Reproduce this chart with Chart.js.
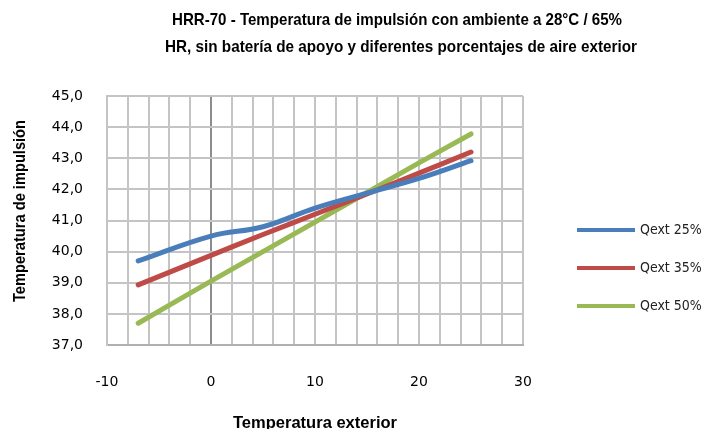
<!DOCTYPE html>
<html>
<head>
<meta charset="utf-8">
<script src="https://cdn.jsdelivr.net/npm/chart.js@4"></script>
<style>
  html, body { margin: 0; padding: 0; background: #fff; }
  #wrap { width: 717px; height: 429px; position: relative; }
</style>
</head>
<body>
<div id="wrap"><canvas id="chart" width="717" height="429"></canvas></div>
<script>
// values
const titleLines = [
    'HRR-70 - Temperatura de impulsión con ambiente a 28°C / 65%',
    'HR, sin batería de apoyo y diferentes porcentajes de aire exterior'
];
const xAxisTitle = 'Temperatura exterior';
const yAxisTitle = 'Temperatura de impulsión';
const xValues = [-7, 0, 5, 10, 15, 20, 25];
const qext25 = [39.7, 40.5, 40.8, 41.4, 41.88, 42.35, 42.92];
const qext35 = [38.93, 39.88, 40.55, 41.2, 41.85, 42.52, 43.2];
const qext50 = [37.7, 39.05, 40.0, 40.95, 41.9, 42.85, 43.78];
const seriesNames = ['Qext 25%', 'Qext 35%', 'Qext 50%'];
const seriesColors = ['#4a7ebb', '#be4b48', '#98b954'];

const textFont = "'Liberation Sans', Arial, sans-serif";

function toPoints(values) {
    return values.map((v, i) => ({ x: xValues[i], y: v }));
}

// draws text squeezed to a given width, like the condensed Excel font
function drawFitted(ctx, text, cx, cy, width, font, angle) {
    ctx.save();
    ctx.font = font;
    ctx.translate(cx, cy);
    if (angle) ctx.rotate(angle);
    const w = ctx.measureText(text).width;
    ctx.scale(width / w, 1);
    ctx.fillStyle = '#000';
    ctx.textAlign = 'center';
    ctx.textBaseline = 'middle';
    ctx.fillText(text, 0, 0);
    ctx.restore();
}

const titlePlugin = {
    id: 'excelTitles',
    afterDraw(chart) {
        const ctx = chart.ctx;
        drawFitted(ctx, titleLines[0], 397, 20, 450, 'bold 17px ' + textFont);
        drawFitted(ctx, titleLines[1], 401, 47, 472, 'bold 17px ' + textFont);
        drawFitted(ctx, yAxisTitle, 21, 211, 182, 'bold 16px ' + textFont, -Math.PI / 2);
        drawFitted(ctx, xAxisTitle, 315, 424, 164, 'bold 16px ' + textFont);
    }
};

const legendPlugin = {
    id: 'sideLegend',
    afterDraw(chart) {
        const ctx = chart.ctx;
        ctx.save();
        chart.data.datasets.forEach((ds, i) => {
            const y = 230 + i * 38;
            ctx.strokeStyle = ds.borderColor;
            ctx.lineWidth = 4;
            ctx.beginPath();
            ctx.moveTo(577, y);
            ctx.lineTo(635, y);
            ctx.stroke();
            ctx.fillStyle = '#222';
            ctx.font = '14px ' + "'DejaVu Sans Condensed', sans-serif";
            ctx.textAlign = 'left';
            ctx.textBaseline = 'middle';
            ctx.fillText(ds.label, 640, y);
        });
        ctx.restore();
    }
};

const datasets = [qext25, qext35, qext50].map((vals, i) => ({
    label: seriesNames[i],
    data: toPoints(vals),
    borderColor: seriesColors[i],
    backgroundColor: seriesColors[i],
    borderWidth: 5,
    pointRadius: 0,
    showLine: true,
    tension: 0.4,
    borderCapStyle: 'round'
}));

new Chart(document.getElementById('chart'), {
    type: 'scatter',
    data: { datasets: datasets },
    options: {
        responsive: false,
        animation: false,
        layout: { padding: { top: 96, right: 194, left: 0, bottom: 0 } },
        plugins: {
            legend: { display: false },
            title: { display: false },
            tooltip: { enabled: false }
        },
        scales: {
            x: {
                type: 'linear',
                min: -10,
                max: 30,
                afterFit: scale => { scale.height = 84; },
                ticks: {
                    stepSize: 2,
                    autoSkip: false,
                    maxRotation: 0,
                    padding: 29,
                    color: '#000',
                    font: { family: 'DejaVu Sans', size: 14 },
                    callback: v => (v % 10 === 0 ? String(v) : '')
                },
                grid: {
                    drawTicks: false,
                    lineWidth: 2,
                    color: c => (c.tick && c.tick.value === 0 ? '#8c8c8c' : '#c4c4c4')
                },
                border: { display: true, color: '#b0b0b0', width: 2 }
            },
            y: {
                min: 37,
                max: 45,
                afterFit: scale => { scale.width = 107; },
                ticks: {
                    stepSize: 1,
                    padding: 24,
                    color: '#000',
                    font: { family: 'DejaVu Sans', size: 14 },
                    callback: v => v.toFixed(1).replace('.', ',')
                },
                grid: { drawTicks: false, lineWidth: 2, color: '#c4c4c4' },
                border: { display: true, color: '#c4c4c4', width: 2 }
            }
        }
    },
    plugins: [titlePlugin, legendPlugin]
});
</script>
</body>
</html>
